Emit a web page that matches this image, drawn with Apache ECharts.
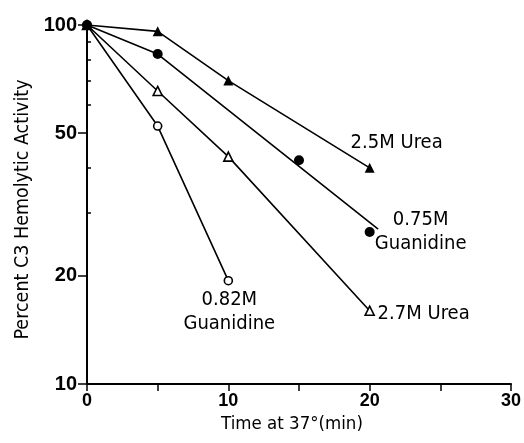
<!DOCTYPE html>
<html><head><meta charset="utf-8">
<script src="https://cdn.jsdelivr.net/npm/echarts@6/dist/echarts.min.js"></script>
<style>html,body{margin:0;padding:0;background:#fff}#c{width:524px;height:443px}</style>
</head><body><div id="c"></div>
<script>
// ---- data ----
const urea25 = [[0,100],[5,96],[10,70],[20,40]];
const guan075 = [[0,100],[5,83],[15,42],[20,26.5]];
const guan075Line = [[0,100],[5,83],[20.6,27]];
const urea27 = [[0,100],[5,65.5],[10,43],[20,16]];
const guan082 = [[0,100],[5,52.3],[10,19.4]];
const xTickLabels = [0,10,20,30];
const yTickLabels = [10,20,50,100];
const yMinorTicks = [30,40,60,70,80,90];
const seriesNames = ['2.5M Urea','0.75M\nGuanidine','2.7M Urea','0.82M\nGuanidine'];

const NARROW = "'Liberation Sans Narrow','Arial Narrow','DejaVu Sans Condensed',sans-serif";
const REG = "'Liberation Sans',Arial,sans-serif";
const lg = v => Math.log10(v);

function markers(data, name, symbol, size, filled, offset){
  const last = data.length - 1;
  return {
    type:'scatter', yAxisIndex:0, z: filled ? 6 : 5, symbol:symbol, symbolSize:size,
    itemStyle:{color: filled ? '#000' : '#fff', borderColor:'#000', borderWidth: filled ? 0 : 1.6, opacity:1},
    data: data.map((p,i) => i === last ? {value:p, label:{
      show:true, position:'inside', offset:offset, formatter:name, color:'#000',
      fontSize:20, fontFamily:NARROW, lineHeight:24, align:'center', verticalAlign:'middle'}} : p)
  };
}
function line(data){
  return {type:'line', yAxisIndex:0, data:data, symbol:'none', silent:true, z:3,
    lineStyle:{color:'#000', width:1.6}};
}

const chart = echarts.init(document.getElementById('c'), null, {renderer:'canvas'});
chart.setOption({
  animation:false,
  backgroundColor:'#fff',
  grid:{left:87, right:11, top:25, bottom:59, containLabel:false},
  xAxis:{type:'value', min:0, max:30, interval:5,
    axisLine:{lineStyle:{color:'#000', width:2}},
    axisTick:{length:7, lineStyle:{color:'#000', width:1.5}},
    axisLabel:{customValues:xTickLabels, color:'#000', fontSize:18, fontWeight:'bold', fontFamily:REG, margin:8},
    splitLine:{show:false},
    name:'Time at 37°(min)', nameLocation:'middle', nameGap:31,
    nameTextStyle:{color:'#000', fontSize:18.5, fontFamily:NARROW, padding:[0,14,0,0]}
  },
  yAxis:[
    {type:'log', logBase:10, min:10, max:100, show:false},
    {type:'value', min:1, max:2, position:'left', offset:0,
      axisLine:{show:true, lineStyle:{color:'#000', width:2}},
      axisTick:{show:true, customValues:yTickLabels.map(lg), length:9, lineStyle:{color:'#000', width:1.5}},
      axisLabel:{customValues:yTickLabels.map(lg), formatter:v => String(Math.round(Math.pow(10,v))),
        color:'#000', fontSize:20, fontWeight:'bold', fontFamily:REG, margin:10},
      splitLine:{show:false},
      name:'Percent C3 Hemolytic Activity', nameLocation:'middle', nameGap:54,
      nameTextStyle:{color:'#000', fontSize:19.5, fontFamily:NARROW, padding:[0,10,0,0]}
    },
    {type:'value', min:1, max:2, position:'left', offset:0,
      axisLine:{show:false},
      axisTick:{show:true, inside:true, customValues:yMinorTicks.map(lg), length:4, lineStyle:{color:'#000', width:1.5}},
      axisLabel:{show:false}, splitLine:{show:false}}
  ],
  series:[
    line(urea25), line(guan075Line), line(urea27), line(guan082),
    markers(urea27, seriesNames[2], 'triangle', 9, false, [54,3]),
    markers(guan082, seriesNames[3], 'circle', 8, false, [1,31]),
    markers(urea25, seriesNames[0], 'triangle', 10, true, [27,-25]),
    markers(guan075, seriesNames[1], 'circle', 10, true, [51,0])
  ]
});
</script></body></html>
